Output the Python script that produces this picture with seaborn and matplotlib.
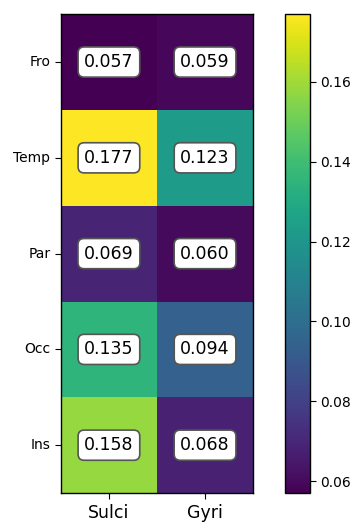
import matplotlib
matplotlib.use("Agg")
import matplotlib.pyplot as plt
import seaborn as sns
import pandas as pd

regions = ["Fro", "Temp", "Par", "Occ", "Ins"]
columns = ["Sulci", "Gyri"]
sulci = [0.057, 0.177, 0.069, 0.135, 0.158]
gyri = [0.059, 0.123, 0.060, 0.094, 0.068]

df = pd.DataFrame({"Sulci": sulci, "Gyri": gyri}, index=regions)[columns]

fig = plt.figure(figsize=(3.56, 5.24), dpi=100)
ax = fig.add_axes([0.171, 0.059, 0.540, 0.914])
cax = fig.add_axes([0.801, 0.059, 0.070, 0.914])

sns.heatmap(df, ax=ax, cbar_ax=cax, cmap="viridis", annot=True, fmt=".3f",
            annot_kws=dict(fontsize=12.5, color="black",
                           bbox=dict(boxstyle="round,pad=0.35", facecolor="white",
                                     edgecolor="#555555", linewidth=1.2)))

for s in ax.spines.values():
    s.set_visible(True)
    s.set_linewidth(1.0)
ax.tick_params(axis="x", labelsize=12.5, length=4)
ax.tick_params(axis="y", labelsize=10, length=4, rotation=0)
ax.set_xlabel("")
ax.set_ylabel("")
cb = ax.collections[0].colorbar
cb.outline.set_visible(True)
cb.outline.set_linewidth(1.0)
cb.set_ticks([0.06, 0.08, 0.10, 0.12, 0.14, 0.16])
cax.tick_params(labelsize=10, length=4)

fig.savefig("out.png", dpi=100)
